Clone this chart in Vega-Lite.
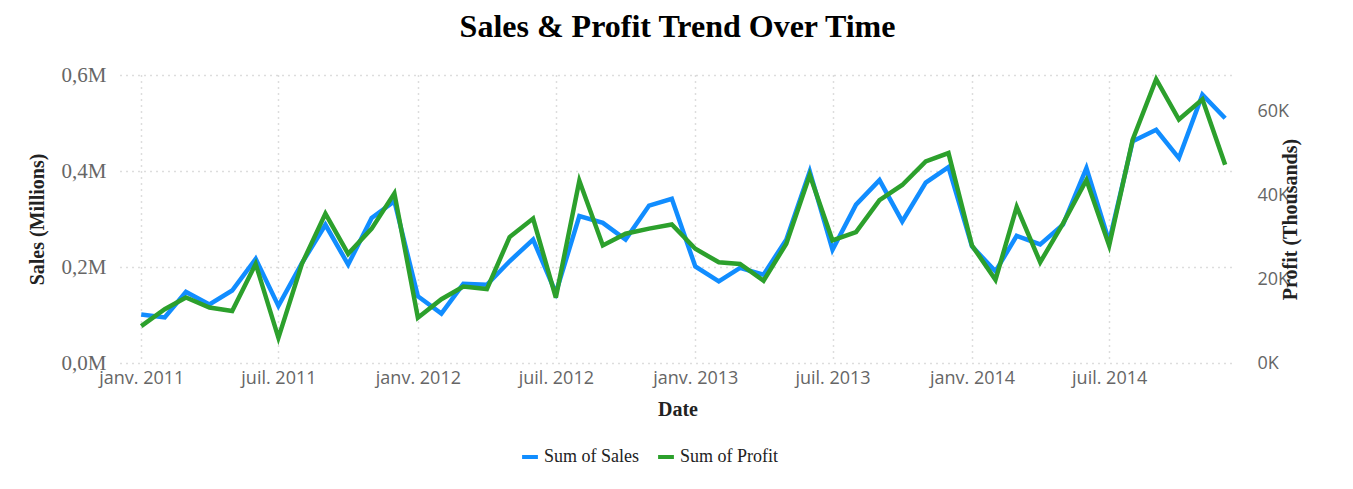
{
  "$schema": "https://vega.github.io/schema/vega-lite/v6.json",
  "width": 1115,
  "height": 288,
  "autosize": {"type": "none"},
  "padding": {"left": 120, "top": 75, "right": 118, "bottom": 126},
  "title": {"text": "Sales & Profit Trend Over Time", "font": "Liberation Serif", "fontSize": 32, "fontWeight": "bold", "color": "#000", "offset": 20},
  "config": {
    "view": {"stroke": null},
    "axis": {"gridDash": [1, 5], "gridColor": "#bbb", "gridWidth": 1.5, "domain": false, "ticks": false, "labelColor": "#666", "titleColor": "#222", "titleFont": "Liberation Serif", "titleFontSize": 20, "titleFontWeight": "bold"}
  },
  "data": {"values": [
    {"date": "2011-01-01", "sales": 0.101, "profit": 8800},
    {"date": "2011-02-01", "sales": 0.095, "profit": 12800},
    {"date": "2011-03-01", "sales": 0.148, "profit": 15600},
    {"date": "2011-04-01", "sales": 0.122, "profit": 13200},
    {"date": "2011-05-01", "sales": 0.151, "profit": 12400},
    {"date": "2011-06-01", "sales": 0.217, "profit": 23600},
    {"date": "2011-07-01", "sales": 0.119, "profit": 6000},
    {"date": "2011-08-01", "sales": 0.208, "profit": 23600},
    {"date": "2011-09-01", "sales": 0.288, "profit": 35600},
    {"date": "2011-10-01", "sales": 0.205, "profit": 26000},
    {"date": "2011-11-01", "sales": 0.302, "profit": 32000},
    {"date": "2011-12-01", "sales": 0.337, "profit": 40400},
    {"date": "2012-01-01", "sales": 0.139, "profit": 10800},
    {"date": "2012-02-01", "sales": 0.103, "profit": 15200},
    {"date": "2012-03-01", "sales": 0.165, "profit": 18200},
    {"date": "2012-04-01", "sales": 0.163, "profit": 17600},
    {"date": "2012-05-01", "sales": 0.212, "profit": 30000},
    {"date": "2012-06-01", "sales": 0.257, "profit": 34400},
    {"date": "2012-07-01", "sales": 0.146, "profit": 15600},
    {"date": "2012-08-01", "sales": 0.306, "profit": 43400},
    {"date": "2012-09-01", "sales": 0.292, "profit": 28000},
    {"date": "2012-10-01", "sales": 0.257, "profit": 30800},
    {"date": "2012-11-01", "sales": 0.328, "profit": 32000},
    {"date": "2012-12-01", "sales": 0.342, "profit": 33000},
    {"date": "2013-01-01", "sales": 0.201, "profit": 27200},
    {"date": "2013-02-01", "sales": 0.170, "profit": 24000},
    {"date": "2013-03-01", "sales": 0.198, "profit": 23600},
    {"date": "2013-04-01", "sales": 0.184, "profit": 19600},
    {"date": "2013-05-01", "sales": 0.257, "profit": 28400},
    {"date": "2013-06-01", "sales": 0.399, "profit": 44800},
    {"date": "2013-07-01", "sales": 0.236, "profit": 29200},
    {"date": "2013-08-01", "sales": 0.330, "profit": 31200},
    {"date": "2013-09-01", "sales": 0.381, "profit": 38800},
    {"date": "2013-10-01", "sales": 0.295, "profit": 42400},
    {"date": "2013-11-01", "sales": 0.376, "profit": 48000},
    {"date": "2013-12-01", "sales": 0.408, "profit": 50000},
    {"date": "2014-01-01", "sales": 0.243, "profit": 28000},
    {"date": "2014-02-01", "sales": 0.191, "profit": 19800},
    {"date": "2014-03-01", "sales": 0.265, "profit": 37200},
    {"date": "2014-04-01", "sales": 0.247, "profit": 24000},
    {"date": "2014-05-01", "sales": 0.288, "profit": 33200},
    {"date": "2014-06-01", "sales": 0.406, "profit": 43600},
    {"date": "2014-07-01", "sales": 0.253, "profit": 28000},
    {"date": "2014-08-01", "sales": 0.462, "profit": 53200},
    {"date": "2014-09-01", "sales": 0.486, "profit": 67600},
    {"date": "2014-10-01", "sales": 0.427, "profit": 58000},
    {"date": "2014-11-01", "sales": 0.559, "profit": 62800},
    {"date": "2014-12-01", "sales": 0.510, "profit": 47200}
  ]},
  "encoding": {
    "x": {
      "field": "date", "type": "temporal", "title": "Date",
      "scale": {"domain": [{"year": 2010, "month": 12, "date": 4}, {"year": 2014, "month": 12, "date": 14}]},
      "axis": {
        "values": [{"year": 2011, "month": 1, "date": 1}, {"year": 2011, "month": 7, "date": 1}, {"year": 2012, "month": 1, "date": 1}, {"year": 2012, "month": 7, "date": 1}, {"year": 2013, "month": 1, "date": 1}, {"year": 2013, "month": 7, "date": 1}, {"year": 2014, "month": 1, "date": 1}, {"year": 2014, "month": 7, "date": 1}],
        "labelExpr": "(month(datum.value) == 0 ? 'janv. ' : 'juil. ') + year(datum.value)",
        "labelFont": "Open Sans", "labelFontSize": 18, "labelPadding": 6, "titlePadding": 12, "grid": true
      }
    },
    "color": {
      "type": "nominal",
      "scale": {"domain": ["Sum of Sales", "Sum of Profit"], "range": ["#118dff", "#2ca02c"]},
      "legend": {"orient": "none", "legendX": 400, "legendY": 372, "direction": "horizontal", "title": null, "symbolType": "stroke", "symbolStrokeWidth": 4, "symbolSize": 250, "labelFont": "Liberation Serif", "labelFontSize": 18, "labelColor": "#222", "columnPadding": 10}
    }
  },
  "layer": [
    {
      "mark": {"type": "line", "strokeWidth": 4.5},
      "encoding": {
        "y": {
          "field": "sales", "type": "quantitative", "title": "Sales (Millions)",
          "scale": {"domain": [0, 0.6], "nice": false},
          "axis": {"values": [0, 0.2, 0.4, 0.6], "labelExpr": "replace(format(datum.value, '.1f'), '.', ',') + 'M'", "labelFont": "Liberation Serif", "labelFontSize": 21, "labelPadding": 14, "titlePadding": 14}
        },
        "color": {"datum": "Sum of Sales"}
      }
    },
    {
      "mark": {"type": "line", "strokeWidth": 4.5, "clip": false},
      "encoding": {
        "y": {
          "field": "profit", "type": "quantitative", "title": "Profit (Thousands)",
          "scale": {"domain": [0, 68600], "nice": false},
          "axis": {"orient": "right", "values": [0, 20000, 40000, 60000], "grid": false, "labelExpr": "format(datum.value / 1000, 'd') + 'K'", "labelFont": "Open Sans", "labelFontSize": 18, "labelPadding": 22, "titlePadding": 12, "titleAngle": 270, "titleBaseline": "bottom"}
        },
        "color": {"datum": "Sum of Profit"}
      }
    }
  ],
  "resolve": {"scale": {"y": "independent"}}
}
